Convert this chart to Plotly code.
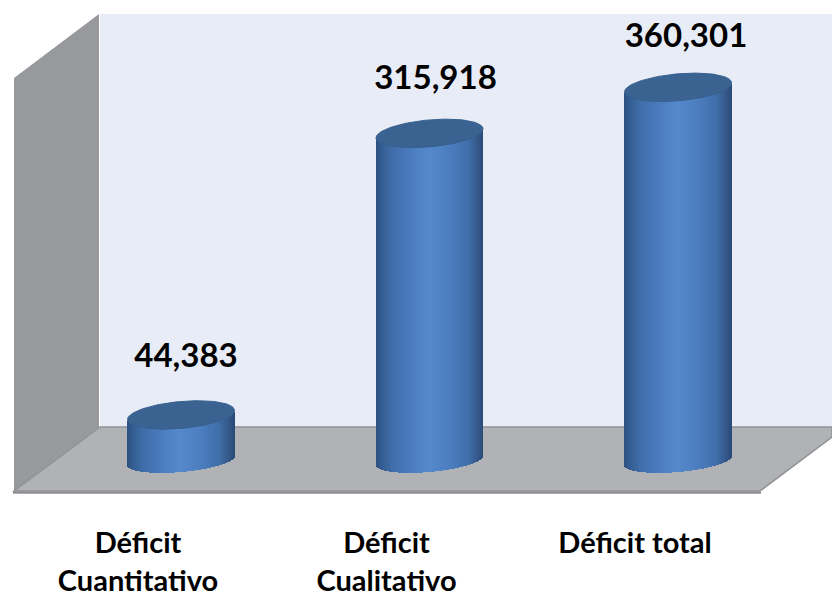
import numpy as np
import plotly.graph_objects as go

CATEGORIES = ["Déficit<br>Cuantitativo", "Déficit<br>Cualitativo", "Déficit total"]
VALUES = [44383, 315918, 360301]
VALUE_LABELS = ["44,383", "315,918", "360,301"]

W, H = 832, 593
PLOT_H = 500                # pixel height of plotting region
PX_PER_UNIT = 0.001037      # vertical px per data unit
ZERO_PX = 461               # pixel row of value 0
CENTER0, SPACING = 181, 248.5
R_PX, B_PX, B_FOOT, TILT = 53.5, 13.5, 11.5, -0.085
LABEL_DX = [5, 6, 8]
LABEL_LIFT = [56, 53, 49]
TICK_DX = -43

FONT = "Lato"
x_range = [-CENTER0 / SPACING, (W - CENTER0) / SPACING]
y_range = [(ZERO_PX - PLOT_H) / PX_PER_UNIT, ZERO_PX / PX_PER_UNIT]
X_UNIT = 1 / SPACING
Y_UNIT = 1 / PX_PER_UNIT

STOPS_T = [-1.0, -0.9, -0.7, -0.25, 0.0, 0.4, 0.72, 0.9, 1.0]
STOPS_R = [0x2c, 0x33, 0x3f, 0x4e, 0x55, 0x4b, 0x40, 0x34, 0x2a]
STOPS_G = [0x50, 0x5c, 0x6d, 0x80, 0x88, 0x7d, 0x6e, 0x59, 0x4b]
STOPS_B = [0x80, 0x90, 0xa8, 0xc4, 0xcc, 0xbe, 0xa9, 0x8a, 0x78]


def shade(t):
    r = np.interp(t, STOPS_T, STOPS_R)
    g = np.interp(t, STOPS_T, STOPS_G)
    b = np.interp(t, STOPS_T, STOPS_B)
    return f"rgb({r:.0f},{g:.0f},{b:.0f})"


def px(x):
    return x / W


def py(y):
    return 1 - y / PLOT_H


def poly(points, fill, line=None, lw=0):
    path = "M " + " L ".join(f"{px(a):.5f},{py(b):.5f}" for a, b in points) + " Z"
    return dict(type="path", xref="paper", yref="paper", path=path, fillcolor=fill,
                line=dict(color=line or fill, width=lw), layer="below")


shapes = [
    poly([(100, 14), (832, 14), (832, 428), (100, 428)], "#e8ecf6"),
    poly([(14, 78), (99, 14), (99, 428), (14, 492)], "#98999c"),
    poly([(14, 491), (100, 427), (832, 427), (832, 437), (760, 491)], "#b0b2b5", "#919294", 1.5),
    dict(type="line", xref="paper", yref="paper", x0=px(13), x1=px(761), y0=py(492.5), y1=py(492.5),
         line=dict(color="#8f9092", width=2.5), layer="below"),
]

fig = go.Figure()

for i, value in enumerate(VALUES):
    dx = np.arange(-R_PX + 0.5, R_PX + 0.5)
    t = dx / R_PX
    drop = TILT * dx + B_FOOT * np.sqrt(1 - t ** 2) - 0.5
    fig.add_trace(go.Bar(
        x=(i + dx * X_UNIT).tolist(),
        y=[value] * len(dx),
        base=(-drop * Y_UNIT).tolist(),
        width=[X_UNIT * 1.0] * len(dx),
        marker=dict(color=[shade(v) for v in t], line=dict(width=0)),
        hoverinfo="skip", showlegend=False,
    ))
    a = np.linspace(0, 2 * np.pi, 121)
    ex = R_PX * np.cos(a)
    ey = TILT * ex + B_PX * np.sin(a)
    fig.add_trace(go.Scatter(
        x=(i + ex * X_UNIT).tolist(),
        y=(value - ey * Y_UNIT).tolist(),
        mode="lines", fill="toself", fillcolor="#3b6391",
        line=dict(color="#37608f", width=1),
        hoverinfo="skip", showlegend=False,
    ))

fig.add_trace(go.Scatter(
    x=[i + d * X_UNIT for i, d in enumerate(LABEL_DX)],
    y=[v + l * Y_UNIT for v, l in zip(VALUES, LABEL_LIFT)],
    mode="text", text=VALUE_LABELS, textposition="middle center",
    textfont=dict(family=FONT, size=33, color="#000000", weight="bold"),
    hoverinfo="skip", showlegend=False, cliponaxis=False,
))

fig.update_layout(
    width=W, height=H,
    margin=dict(l=0, r=0, t=0, b=H - PLOT_H, autoexpand=False),
    paper_bgcolor="white", plot_bgcolor="rgba(0,0,0,0)",
    barmode="overlay", bargap=0, shapes=shapes, showlegend=False,
    xaxis=dict(range=x_range, showgrid=False, zeroline=False, showline=False, ticks="",
               tickmode="array", tickvals=[i + TICK_DX * X_UNIT for i in range(3)],
               ticktext=CATEGORIES, ticklabelstandoff=23,
               tickfont=dict(family=FONT, size=29, color="#000000", weight="bold")),
    yaxis=dict(range=y_range, visible=False),
)

fig.write_html("out.html", config={"displayModeBar": False},
               post_script="document.body.style.margin='0';document.documentElement.style.overflow='hidden';")
